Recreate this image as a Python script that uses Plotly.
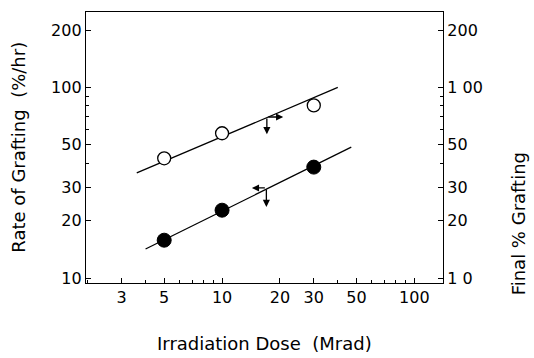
import numpy as np
import plotly.graph_objects as go

# Data
dose = [5, 10, 30]
final_grafting = [42.5, 57.5, 80.5]      # open circles, right axis
rate_grafting = [15.8, 22.7, 38.2]       # filled circles, left axis
open_fit_x = [3.6, 40]
open_fit_y = [35.6, 100]
filled_fit_x = [4.0, 47]
filled_fit_y = [14.2, 48.6]

x_ticks = [3, 5, 10, 20, 30, 50, 100]
x_minor = [2, 4, 6, 7, 8, 9, 40, 60, 70, 80, 90]
y_ticks = [10, 20, 30, 50, 100, 200]
y_left_text = ["10", "20", "30", "50", "100", "200"]
y_right_text = ["1 0", "20", "30", "50", "1 00", "200"]
y_minor = [40, 60, 70, 80, 90]

FONT = "DejaVu Sans"
xr = [np.log10(1.96), np.log10(141)]
yr = [0.974, 2.396]

fig = go.Figure()
fig.add_trace(go.Scatter(x=open_fit_x, y=open_fit_y, mode="lines",
                         line=dict(color="black", width=1.3), showlegend=False))
fig.add_trace(go.Scatter(x=filled_fit_x, y=filled_fit_y, mode="lines",
                         line=dict(color="black", width=1.3), showlegend=False))
fig.add_trace(go.Scatter(x=dose, y=final_grafting, mode="markers",
                         marker=dict(symbol="circle", size=13, color="white",
                                     line=dict(color="black", width=1.3)),
                         showlegend=False))
fig.add_trace(go.Scatter(x=dose, y=rate_grafting, mode="markers",
                         marker=dict(symbol="circle", size=14, color="black",
                                     line=dict(color="black", width=1)),
                         showlegend=False))
# invisible trace to activate right axis
fig.add_trace(go.Scatter(x=[None], y=[None], yaxis="y2", showlegend=False))

def arrow(x0, y0, x1, y1):
    # arrow pointing from (x0,y0) to (x1,y1), data coords
    fig.add_annotation(x=np.log10(x1), y=np.log10(y1), ax=np.log10(x0), ay=np.log10(y0),
                       xref="x", yref="y", axref="x", ayref="y", text="",
                       showarrow=True, arrowhead=2, arrowsize=1.1, arrowwidth=1.3,
                       arrowcolor="black")

arrow(17.1, 70, 17.1, 56.9)
arrow(17.1, 70, 20.8, 70)
arrow(17.0, 29.7, 17.0, 23.6)
arrow(17.0, 29.7, 14.3, 29.7)

fig.update_layout(
    width=534, height=358,
    margin=dict(l=86, r=91, t=12, b=75),
    paper_bgcolor="white", plot_bgcolor="white",
    font=dict(family=FONT, color="black", size=16),
    xaxis=dict(type="log", range=xr, tickmode="array", tickvals=x_ticks,
               ticktext=[str(v) for v in x_ticks], ticks="inside", ticklen=5,
               tickcolor="black", showline=True, linecolor="black", linewidth=1.3,
               mirror=True, showgrid=False, zeroline=False,
               tickfont=dict(size=16),
               minor=dict(tickvals=x_minor, ticks="inside", ticklen=3,
                          tickcolor="black", showgrid=False)),
    yaxis=dict(type="log", range=yr, tickmode="array", tickvals=y_ticks,
               ticktext=y_left_text, ticks="inside", ticklen=5, tickcolor="black",
               showline=True, linecolor="black", linewidth=1.3, showgrid=False,
               zeroline=False, tickfont=dict(size=16),
               minor=dict(tickvals=y_minor, ticks="inside", ticklen=3,
                          tickcolor="black", showgrid=False)),
    yaxis2=dict(type="log", range=yr, overlaying="y", side="right",
                tickmode="array", tickvals=y_ticks, ticktext=y_right_text,
                ticks="inside", ticklen=5, tickcolor="black", showline=True,
                linecolor="black", linewidth=1.3, showgrid=False, zeroline=False,
                tickfont=dict(size=16),
                minor=dict(tickvals=y_minor, ticks="inside", ticklen=3,
                           tickcolor="black", showgrid=False)),
)

fig.add_annotation(text="Irradiation Dose  (Mrad)", xref="paper", yref="paper",
                   x=0.5, y=-0.225, xanchor="center", yanchor="middle",
                   showarrow=False, font=dict(size=18, family=FONT))
fig.add_annotation(text="Rate of Grafting  (%/hr)", xref="paper", yref="paper",
                   x=-0.19, y=0.5, xanchor="center", yanchor="middle", textangle=-90,
                   showarrow=False, font=dict(size=18, family=FONT))
fig.add_annotation(text="Final % Grafting", xref="paper", yref="paper",
                   x=1.21, y=0.22, xanchor="center", yanchor="middle", textangle=-90,
                   showarrow=False, font=dict(size=18, family=FONT))

fig.write_html("out.html")
